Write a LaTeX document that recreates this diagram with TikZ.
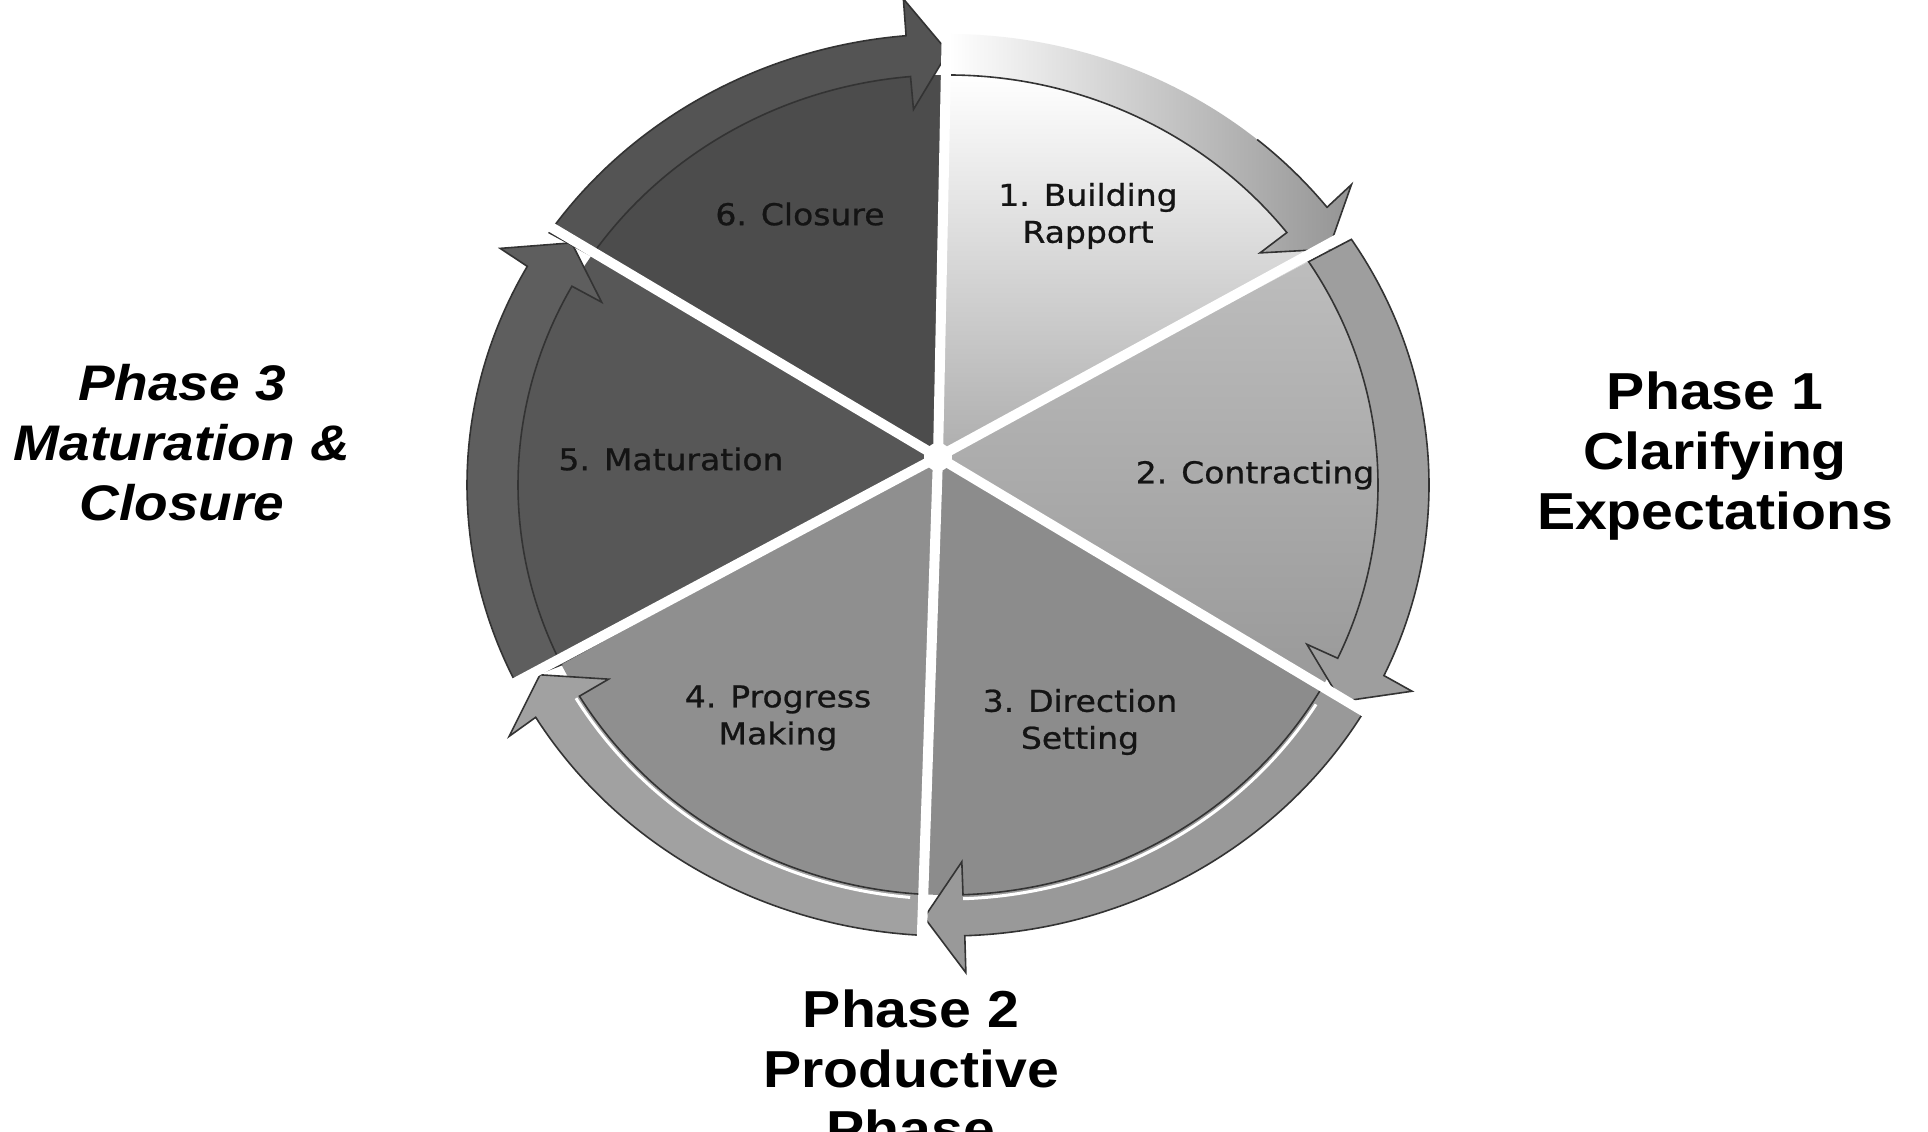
\documentclass[tikz,border=0pt]{standalone}
\usepackage{fontspec}
\newfontfamily\phasefont[FakeStretch=1.1]{Liberation Sans}
\newfontfamily\wedgefont[FakeStretch=1.1,FakeBold=0.8]{DejaVu Sans}
\newcommand\mysector[3]{\path[#3] (S) -- ({430*cos(#1)},{410*sin(#1)}) arc[start angle=#1,end angle=#2,x radius=430,y radius=410] -- cycle;}
\newcommand\myband[3]{%
  \pgfmathsetmacro\myth{#2+5}%
  \path[#3] ({481*cos(#1)},{451*sin(#1)}) arc[start angle=#1,end angle=\myth,x radius=481,y radius=451]
    -- ({512*cos(\myth)},{488*sin(\myth)})
    -- ({454*cos(#2)},{433*sin(#2)})
    -- ({396*cos(\myth)},{377*sin(\myth)})
    -- ({430*cos(\myth)},{410*sin(\myth)}) arc[start angle=\myth,end angle=#1,x radius=430,y radius=410] -- cycle;}
\tikzset{
  edge/.style={draw=black!80, line width=1.6},
  wlabel/.style={font=\wedgefont\fontsize{30}{37}\selectfont, align=center, inner sep=0pt, text=black!92},
  plabel/.style={font=\phasefont\bfseries\fontsize{52}{60}\selectfont, align=center, inner sep=0pt},
  plabelit/.style={font=\phasefont\bfseries\itshape\fontsize{50}{60}\selectfont, align=center, inner sep=0pt},
}
\begin{document}
\begin{tikzpicture}[x=1pt,y=1pt]
\useasboundingbox (0,0) rectangle (1928,1132);
\fill[white] (0,0) rectangle (1928,1132);
\clip (0,0) rectangle (1928,1132);
\begin{scope}[shift={(948,647)}]
  \coordinate (S) at (-10,28);
  % sectors
  \mysector{90}{33}{top color=white, bottom color=black!32}
  \mysector{33}{-30}{top color=black!26, bottom color=black!40}
  \mysector{-30}{-93}{fill=black!45}
  \mysector{-93}{-154}{fill=black!44}
  \mysector{-154}{-214}{fill=black!66}
  \mysector{146}{90}{fill=black!70}
  % arrow bands
  \myband{33}{-30}{fill=black!38, edge}
  \myband{-30}{-93}{fill=black!40, edge}
  \myband{-93}{-154}{fill=black!37, edge}
  \myband{-154}{-214}{fill=black!63, edge}
  \myband{146}{90}{fill=black!67, edge}
  \myband{90}{33}{left color=white, middle color=white, right color=black!42}
  \draw[edge] ({481*cos(50)},{451*sin(50)}) arc[start angle=50,end angle=38,x radius=481,y radius=451]
    -- ({512*cos(38)},{488*sin(38)}) -- ({454*cos(33)},{433*sin(33)}) -- ({396*cos(38)},{377*sin(38)})
    -- ({430*cos(38)},{410*sin(38)}) arc[start angle=38,end angle=90,x radius=430,y radius=410];
  % highlights on bands 3 and 4
  \draw[white, line width=3] ({434*cos(-32)},{414*sin(-32)}) arc[start angle=-32,end angle=-88,x radius=434,y radius=414];
  \draw[white, line width=3] ({434*cos(-95)},{414*sin(-95)}) arc[start angle=-95,end angle=-149,x radius=434,y radius=414];
  % white gaps
  \foreach \ang in {90,33,-30,-93,-154,146}
    \draw[white, line width=10] (S) -- ({540*cos(\ang)},{515*sin(\ang)});
  \fill[white] (S) circle (14);
\end{scope}
% wedge labels
\node[wlabel] (w1) at (1088,916) {1. Building\\Rapport};
\node[wlabel] (w2) at (1255,657) {2. Contracting};
\node[wlabel] (w3) at (1080,410) {3. Direction\\Setting};
\node[wlabel] (w4) at (778,414) {4. Progress\\Making};
\node[wlabel] (w5) at (671,673) {5. Maturation};
\node[wlabel] (w6) at (800,918) {6. Closure};
% phase labels
\node[plabel] (p1) at (1715,676) {Phase 1\\Clarifying\\Expectations};
\node[plabelit] (p3) at (182,689) {Phase 3\\Maturation \&\\Closure};
\node[plabel] (p2) at (911,63) {Phase 2\\Productive\\Phase};
\end{tikzpicture}
\end{document}
